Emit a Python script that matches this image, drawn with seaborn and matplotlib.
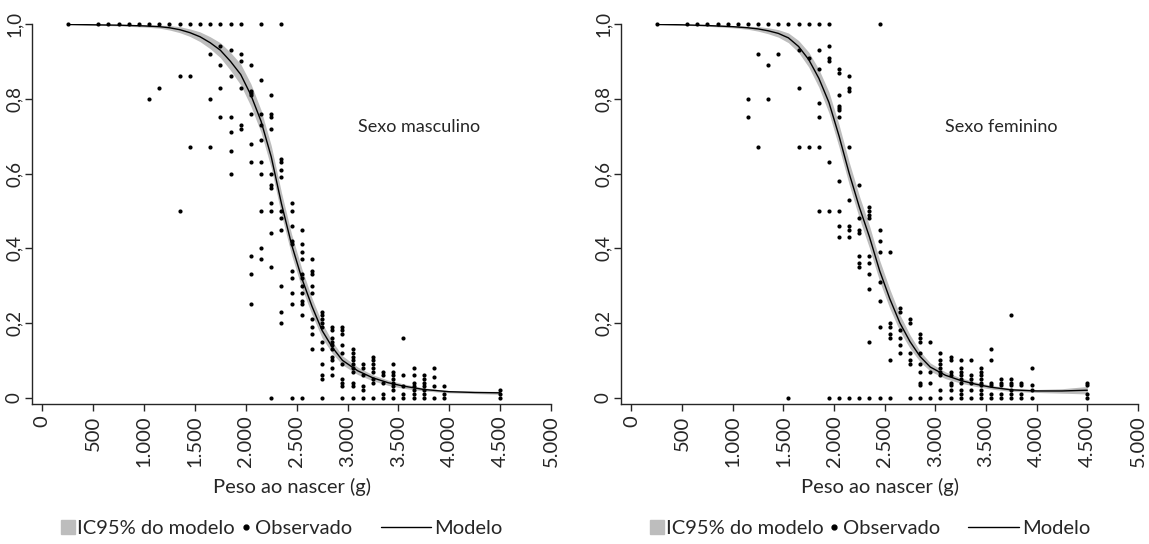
import matplotlib
matplotlib.use("Agg")
import matplotlib.pyplot as plt
from matplotlib.lines import Line2D
from matplotlib.legend import Legend
from matplotlib.legend_handler import HandlerLine2D
from matplotlib.ticker import FuncFormatter
import seaborn as sns
import pandas as pd
import numpy as np

# observed proportions (peso ao nascer em g, proporcao) - sexo masculino
masc_obs = [
    (250, 1), (550, 1), (650, 1), (750, 1), (850, 1), (950, 1), (1050, 1), (1150, 1),
    (1250, 1), (1350, 1), (1450, 1), (1550, 1), (1650, 1), (1750, 1), (1850, 1),
    (1950, 1), (2150, 1), (2350, 1),
    (1050, .80), (1150, .83), (1350, .86), (1350, .50), (1450, .86), (1450, .67),
    (1650, .92), (1650, .80), (1650, .67),
    (1750, .94), (1750, .89), (1750, .83), (1750, .75),
    (1850, .93), (1850, .86), (1850, .75), (1850, .71), (1850, .66), (1850, .60),
    (1950, .92), (1950, .90), (1950, .83), (1950, .73), (1950, .72),
    (2050, .89), (2050, .82), (2050, .815), (2050, .81), (2050, .76), (2050, .68),
    (2050, .63), (2050, .38), (2050, .33), (2050, .25),
    (2150, .85), (2150, .76), (2150, .73), (2150, .69), (2150, .63), (2150, .60),
    (2150, .50), (2150, .40), (2150, .37),
    (2250, .81), (2250, .76), (2250, .75), (2250, .72), (2250, .60), (2250, .57),
    (2250, .56), (2250, .52), (2250, .50), (2250, .44), (2250, .35), (2250, 0),
    (2350, .64), (2350, .63), (2350, .61), (2350, .59), (2350, .50), (2350, .48),
    (2350, .45), (2350, .30), (2350, .23), (2350, .20),
    (2450, .52), (2450, .50), (2450, .46), (2450, .42), (2450, .41), (2450, .34),
    (2450, .32), (2450, .28), (2450, .25), (2450, 0),
    (2550, .45), (2550, .41), (2550, .39), (2550, .37), (2550, .33), (2550, .32),
    (2550, .30), (2550, .28), (2550, .26), (2550, .25), (2550, .22), (2550, 0),
    (2650, .37), (2650, .34), (2650, .33), (2650, .30), (2650, .28), (2650, .21),
    (2650, .19), (2650, .17), (2650, .13),
    (2750, .23), (2750, .22), (2750, .21), (2750, .20), (2750, .19), (2750, .15),
    (2750, .13), (2750, .09), (2750, .06), (2750, .05), (2750, 0),
    (2850, .19), (2850, .18), (2850, .16), (2850, .15), (2850, .14), (2850, .13),
    (2850, .11), (2850, .10), (2850, .08), (2850, .06),
    (2950, .19), (2950, .18), (2950, .17), (2950, .14), (2950, .12), (2950, .09),
    (2950, .05), (2950, .04), (2950, .03), (2950, 0),
    (3050, .13), (3050, .12), (3050, .11), (3050, .10), (3050, .09), (3050, .08),
    (3050, .07), (3050, .04), (3050, .03), (3050, 0),
    (3150, .09), (3150, .08), (3150, .06), (3150, .03), (3150, .02), (3150, 0),
    (3250, .11), (3250, .10), (3250, .09), (3250, .08), (3250, .07), (3250, .05),
    (3250, .04), (3250, 0),
    (3350, .07), (3350, .06), (3350, .04), (3350, .01), (3350, 0),
    (3450, .09), (3450, .07), (3450, .06), (3450, .05), (3450, .04), (3450, .03),
    (3450, .02), (3450, 0),
    (3550, .16), (3550, .06), (3550, .03), (3550, .01), (3550, 0),
    (3650, .08), (3650, .06), (3650, .04), (3650, .03), (3650, .02), (3650, .01), (3650, 0),
    (3750, .06), (3750, .05), (3750, .04), (3750, .03), (3750, .02), (3750, .01), (3750, 0),
    (3850, .08), (3850, .055), (3850, .03), (3850, 0),
    (3950, .03), (3950, .01), (3950, 0),
    (4500, .02), (4500, .01), (4500, 0),
]

# sexo feminino
fem_obs = [
    (250, 1), (550, 1), (650, 1), (750, 1), (850, 1), (950, 1), (1050, 1), (1150, 1),
    (1250, 1), (1350, 1), (1450, 1), (1550, 1), (1650, 1), (1750, 1), (1850, 1),
    (1950, 1), (2450, 1),
    (1150, .80), (1150, .75), (1250, .92), (1250, .67), (1350, .89), (1350, .80),
    (1450, .92), (1550, 0),
    (1650, .93), (1650, .83), (1650, .67), (1750, .91), (1750, .67),
    (1850, .93), (1850, .88), (1850, .79), (1850, .75), (1850, .67), (1850, .50),
    (1950, .94), (1950, .91), (1950, .90), (1950, .63), (1950, .50), (1950, 0),
    (2050, .88), (2050, .87), (2050, .81), (2050, .78), (2050, .775), (2050, .77),
    (2050, .75), (2050, .58), (2050, .50), (2050, .46), (2050, .43), (2050, 0),
    (2150, .86), (2150, .83), (2150, .82), (2150, .67), (2150, .53), (2150, .46),
    (2150, .45), (2150, .43), (2150, 0),
    (2250, .57), (2250, .48), (2250, .45), (2250, .44), (2250, .38), (2250, .36),
    (2250, .35), (2250, 0),
    (2350, .51), (2350, .50), (2350, .49), (2350, .48), (2350, .38), (2350, .36),
    (2350, .33), (2350, .29), (2350, .15), (2350, 0),
    (2450, .45), (2450, .42), (2450, .39), (2450, .31), (2450, .26), (2450, .19), (2450, 0),
    (2550, .39), (2550, .20), (2550, .19), (2550, .17), (2550, .16), (2550, .10), (2550, 0),
    (2650, .24), (2650, .23), (2650, .18), (2650, .16), (2650, .14), (2650, .12),
    (2750, .21), (2750, .20), (2750, .12), (2750, .10), (2750, .09), (2750, 0),
    (2850, .17), (2850, .16), (2850, .15), (2850, .12), (2850, .09), (2850, .07),
    (2850, .04), (2850, .035), (2850, 0),
    (2950, .15), (2950, .07), (2950, .04), (2950, 0),
    (3050, .12), (3050, .10), (3050, .09), (3050, .08), (3050, .07), (3050, .06),
    (3050, .02), (3050, 0),
    (3150, .11), (3150, .10), (3150, .07), (3150, .06), (3150, .04), (3150, .035),
    (3150, .02), (3150, 0),
    (3250, .10), (3250, .08), (3250, .07), (3250, .06), (3250, .05), (3250, .04),
    (3250, .02), (3250, .01), (3250, 0),
    (3350, .10), (3350, .06), (3350, .05), (3350, .04), (3350, .02), (3350, 0),
    (3450, .08), (3450, .07), (3450, .06), (3450, .05), (3450, .04), (3450, .035),
    (3450, .02), (3450, .01), (3450, 0),
    (3550, .13), (3550, .10), (3550, .04), (3550, .035), (3550, .01), (3550, 0),
    (3650, .05), (3650, .04), (3650, .035), (3650, .01), (3650, 0),
    (3750, .22), (3750, .05), (3750, .04), (3750, .035), (3750, .02), (3750, .01), (3750, 0),
    (3850, .04), (3850, .035), (3850, .01), (3850, 0),
    (3950, .08), (3950, .035), (3950, .02), (3950, 0),
    (4500, .04), (4500, .035), (4500, .01), (4500, 0),
]

# fitted model curve and half width of IC95%
modelo_peso = [250, 500, 750, 1000, 1150, 1250, 1350, 1450, 1550, 1650, 1750, 1850,
               1950, 2050, 2150, 2250, 2350, 2450, 2550, 2650, 2750, 2850, 2950,
               3100, 3250, 3400, 3550, 3750, 4000, 4250, 4500]
masc_modelo_prob = [.999, .998, .997, .995, .993, .99, .985, .977, .966, .95, .93, .90,
                    .865, .81, .74, .645, .52, .41, .32, .245, .18, .135, .10,
                    .072, .053, .04, .031, .022, .016, .014, .013]
masc_ic = [.001, .001, .002, .003, .004, .006, .008, .01, .013, .016, .02, .024,
           .028, .03, .03, .03, .03, .028, .026, .022, .02, .016, .012,
           .01, .008, .007, .006, .004, .003, .003, .004]

fem_modelo_prob = [.999, .998, .996, .993, .99, .987, .982, .975, .963, .94, .905, .855,
                   .79, .70, .60, .51, .43, .34, .265, .20, .15, .11, .082,
                   .06, .046, .036, .028, .021, .018, .018, .02]
fem_ic = [.001, .001, .002, .003, .004, .006, .008, .01, .013, .016, .02, .024,
          .028, .03, .03, .03, .03, .028, .026, .022, .018, .014, .011,
          .009, .007, .006, .005, .004, .004, .006, .01]

x_ticks = [0, 500, 1000, 1500, 2000, 2500, 3000, 3500, 4000, 4500, 5000]
y_ticks = [0, 0.2, 0.4, 0.6, 0.8, 1.0]
legenda_rotulos = ["IC95% do modelo", "Observado", "Modelo"]

sns.set_style("ticks")
plt.rcParams["font.family"] = ["Lato", "DejaVu Sans"]

band_color = "#bdbdbd"


class MarcadorDireita(HandlerLine2D):
    # marker sits right next to the label, as in the original legend
    def get_xdata(self, legend, xdescent, ydescent, width, height, fontsize):
        x = [width - xdescent - 0.3 * fontsize]
        return x, x


def painel(ax, obs, peso, prob, ic, rotulo):
    df = pd.DataFrame(obs, columns=["peso", "prop"])
    mod = pd.DataFrame({"peso": peso, "prob": prob, "ic": ic})
    ax.fill_between(mod["peso"], mod["prob"] - mod["ic"], mod["prob"] + mod["ic"],
                    color=band_color, linewidth=0, zorder=1)
    sns.scatterplot(data=df, x="peso", y="prop", ax=ax, color="black", s=9,
                    linewidth=0, zorder=3, clip_on=False, legend=False)
    sns.lineplot(data=mod, x="peso", y="prob", ax=ax, color="black", linewidth=1.0,
                 zorder=2)
    ax.set_xlim(-100, 5000)
    ax.set_ylim(-0.0177, 1.0)
    ax.set_xticks(x_ticks)
    ax.set_yticks(y_ticks)
    ax.xaxis.set_major_formatter(FuncFormatter(lambda v, p: f"{int(v):,}".replace(",", ".")))
    ax.yaxis.set_major_formatter(FuncFormatter(lambda v, p: "0" if v == 0 else f"{v:.1f}".replace(".", ",")))
    ax.tick_params(axis="x", labelrotation=90, labelsize=14.5, length=5, width=1, pad=3)
    ax.tick_params(axis="y", labelrotation=90, labelsize=13.5, length=5, width=1, pad=2)
    for t in ax.get_yticklabels():
        t.set_va("center")
    sns.despine(ax=ax)
    for s in ("left", "bottom"):
        ax.spines[s].set_linewidth(1.0)
    ax.set_xlabel("Peso ao nascer (g)", fontsize=14.5, labelpad=8)
    ax.set_ylabel("")
    ax.text(3100, 0.725, rotulo, fontsize=13, ha="left", va="center")

    # one legend item at a time so each handle gets its own length
    itens = [
        (Line2D([], [], marker="s", markersize=9.5, color=band_color, linestyle="none"), 0.046, 0.9),
        (Line2D([], [], marker="o", markersize=3.5, color="black", linestyle="none"), 0.402, 0.55),
        (Line2D([], [], color="black", linewidth=1.0), 0.672, 2.5),
    ]
    for (h, x0, hl), lab in zip(itens, legenda_rotulos):
        hm = {} if h.get_linestyle() != "None" else {h: MarcadorDireita()}
        leg = Legend(ax, [h], [lab], loc="center left", bbox_to_anchor=(x0, -0.326),
                     frameon=False, fontsize=14.5, handlelength=hl, handletextpad=0.15,
                     borderaxespad=0, borderpad=0, handler_map=hm)
        ax.add_artist(leg)


fig = plt.figure(figsize=(11.49, 5.44), dpi=100)
ax1 = fig.add_axes([0.028, 0.2568, 0.4515, 0.699])
ax2 = fig.add_axes([0.5407, 0.2568, 0.4497, 0.699])

painel(ax1, masc_obs, modelo_peso, masc_modelo_prob, masc_ic, "Sexo masculino")
painel(ax2, fem_obs, modelo_peso, fem_modelo_prob, fem_ic, "Sexo feminino")

fig.savefig("out.png", dpi=100)
